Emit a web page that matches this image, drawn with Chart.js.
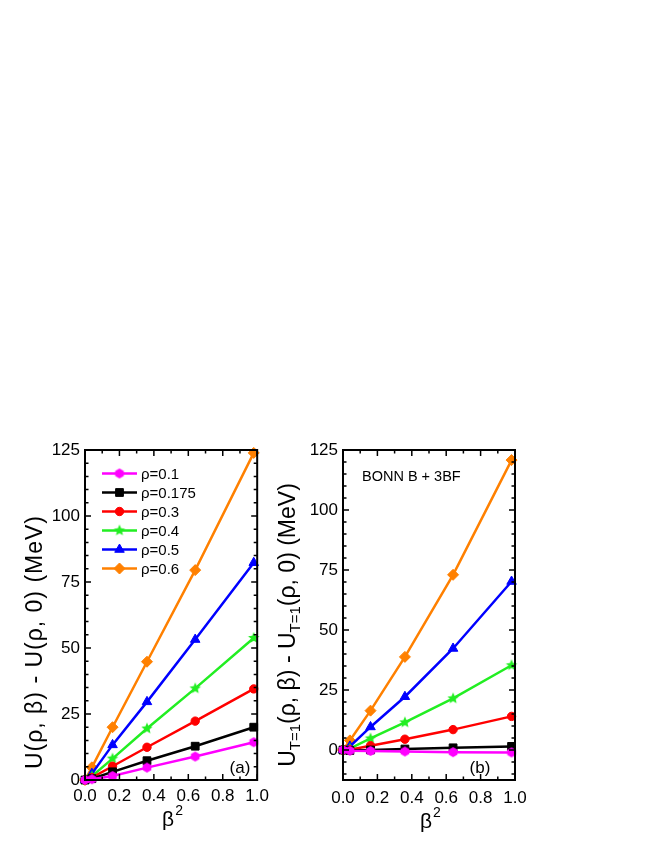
<!DOCTYPE html>
<html>
<head>
<meta charset="utf-8">
<script src="https://cdn.jsdelivr.net/npm/chart.js@4.4.0/dist/chart.umd.min.js"></script>
<style>
  body { margin: 0; background: #fff; width: 654px; height: 846px; position: relative; overflow: hidden; }
  canvas { position: absolute; }
  #chartA { left: 0; top: 430px; }
  #chartB { left: 262px; top: 430px; }
</style>
</head>
<body>
<canvas id="chartA" width="275" height="416" style="width:275px;height:416px"></canvas>
<canvas id="chartB" width="280" height="416" style="width:280px;height:416px"></canvas>
<script>
// beta^2 sample points (same for every curve)
const betaSq = [0, 0.04, 0.16, 0.36, 0.64, 0.98]
const rhoLabels = ['ρ=0.1', 'ρ=0.175', 'ρ=0.3', 'ρ=0.4', 'ρ=0.5', 'ρ=0.6']

// panel (a): U(rho,beta) - U(rho,0)
const rho01A   = [0, 0.3, 1.5, 4.7, 8.9, 14.3]
const rho0175A = [0, 0.5, 3.1, 7.3, 12.8, 20.0]
const rho03A   = [0, 0.9, 5.2, 12.4, 22.3, 34.5]
const rho04A   = [0, 1.4, 8.1, 19.5, 34.7, 53.8]
const rho05A   = [0, 2.4, 13.3, 29.6, 53.2, 82.3]
const rho06A   = [0, 4.8, 20.0, 44.8, 79.5, 123.9]

// panel (b): U_T=1(rho,beta) - U_T=1(rho,0)
const rho01B   = [0, -0.3, -0.4, -0.6, -0.9, -1.0]
const rho0175B = [0, -0.2, 0.0, 0.4, 0.9, 1.5]
const rho03B   = [0, 0.1, 1.8, 4.5, 8.5, 14.0]
const rho04B   = [0, 0.6, 4.8, 11.5, 21.5, 35.3]
const rho05B   = [0, 1.5, 9.6, 22.2, 42.3, 70.2]
const rho06B   = [0, 4.0, 16.4, 38.8, 73.0, 120.8]

const xTicks = [0, 0.2, 0.4, 0.6, 0.8, 1.0]
const yTicks = [0, 25, 50, 75, 100, 125]

const FONT   = "'Liberation Sans', Arial, sans-serif"
const COLORS = ['#FF00FF', '#000000', '#FF0000', '#22EE22', '#0000FF', '#FF8000']

function shape(kind, color, r) {
  const c = document.createElement('canvas')
  const s = Math.ceil(r * 2 + 2)
  c.width = c.height = s
  const g = c.getContext('2d')
  const n = kind === 'star' ? 10 : 6
  g.fillStyle = color
  g.beginPath()
  for (let k = 0; k < n; k++) {
    const a = -Math.PI / 2 + k * Math.PI * 2 / n
    const rr = kind === 'star' ? (k % 2 ? r * 0.45 : r) : r
    g.lineTo(s / 2 + rr * Math.cos(a), s / 2 + rr * Math.sin(a))
  }
  g.closePath()
  g.fill()
  return c
}

const MARKERS = [shape('hex', COLORS[0], 5), 'rect', 'circle', shape('star', COLORS[3], 6), 'triangle', 'rectRot']
const RADII   = [5, 5.5, 4.2, 6, 5.5, 5.5]

// frame, inward ticks, texts, legend
const panelDeco = {
  id: 'panelDeco',
  afterDatasetsDraw(chart, args, o) {
    const { ctx, chartArea: a, scales: { x, y } } = chart
    ctx.save()
    ctx.strokeStyle = '#000'
    ctx.lineWidth = 1.5
    ctx.beginPath()
    const minorX = [], minorY = []
    for (let v = 0.1; v < 1; v += 0.2) minorX.push(v)
    for (let v = o.yMinorFrom; v < 125; v += 5) if (v % 25 !== 0) minorY.push(v)
    const tx = (v, len) => {
      const px = x.getPixelForValue(v)
      ctx.moveTo(px, a.bottom); ctx.lineTo(px, a.bottom - len)
      ctx.moveTo(px, a.top);    ctx.lineTo(px, a.top + len)
    }
    const ty = (v, len) => {
      const py = y.getPixelForValue(v)
      ctx.moveTo(a.left, py);  ctx.lineTo(a.left + len, py)
      ctx.moveTo(a.right, py); ctx.lineTo(a.right - len, py)
    }
    xTicks.forEach(v => tx(v, 6))
    minorX.forEach(v => tx(v, 3.5))
    yTicks.forEach(v => ty(v, 6))
    minorY.forEach(v => ty(v, 3.5))
    ctx.stroke()
    ctx.lineWidth = 2
    ctx.strokeRect(a.left, a.top, a.right - a.left, a.bottom - a.top)
    ctx.restore()
  },
  afterDraw(chart, args, o) {
    const { ctx, chartArea: a } = chart
    ctx.save()
    ctx.fillStyle = '#000'
    ctx.textBaseline = 'middle'

    // y title with optional subscripts
    ctx.translate(o.titleX, o.titleY)
    ctx.rotate(-Math.PI / 2)
    const big = `23px ${FONT}`, small = `15px ${FONT}`
    ctx.letterSpacing = o.spacing
    let total = 0
    o.titleParts.forEach(p => { ctx.font = p.sub ? small : big; total += ctx.measureText(p.t).width })
    let cx = -total / 2
    ctx.textAlign = 'left'
    o.titleParts.forEach(p => {
      ctx.font = p.sub ? small : big
      ctx.fillText(p.t, cx, p.sub ? 7 : 0)
      cx += ctx.measureText(p.t).width
    })
    ctx.setTransform(1, 0, 0, 1, 0, 0)
    ctx.letterSpacing = '0px'

    // x title beta^2
    const xc = (a.left + a.right) / 2
    ctx.font = `21px ${FONT}`
    const bw = ctx.measureText('β').width
    ctx.textAlign = 'left'
    ctx.fillText('β', xc - bw / 2 - 3, o.xTitleY)
    ctx.font = `14px ${FONT}`
    ctx.fillText('2', xc + bw / 2 - 2, o.xTitleY - 9)

    // panel tag
    ctx.font = `17px ${FONT}`
    ctx.textAlign = 'center'
    ctx.fillText(o.tag, o.tagX, o.tagY)

    if (o.note) {
      ctx.font = `14.5px ${FONT}`
      ctx.textAlign = 'left'
      ctx.fillText(o.note, o.noteX, o.noteY)
    }

    if (o.legend) {
      chart.data.datasets.forEach((ds, i) => {
        const ly = o.legendY + i * 19
        ctx.strokeStyle = ds.borderColor
        ctx.lineWidth = 2.5
        ctx.beginPath()
        ctx.moveTo(o.legendX, ly); ctx.lineTo(o.legendX + 35, ly)
        ctx.stroke()
        ctx.fillStyle = ds.backgroundColor
        ctx.lineWidth = 1
        Chart.helpers.drawPoint(ctx, { pointStyle: ds.pointStyle, radius: ds.pointRadius, borderWidth: 1, rotation: 0 }, o.legendX + 17.5, ly)
        ctx.fillStyle = '#000'
        ctx.font = `15px ${FONT}`
        ctx.textAlign = 'left'
        ctx.fillText(ds.label, o.legendX + 39, ly + 1)
      })
    }
    ctx.restore()
  }
}

function makeChart(id, series, yMin, axisW, padRight, deco) {
  return new Chart(document.getElementById(id), {
    type: 'line',
    data: {
      datasets: series.map((vals, i) => ({
        label: rhoLabels[i],
        data: betaSq.map((b, j) => ({ x: b, y: vals[j] })),
        borderColor: COLORS[i],
        backgroundColor: COLORS[i],
        pointStyle: MARKERS[i],
        pointRadius: RADII[i],
        pointBorderWidth: 1,
        borderWidth: 2.5,
        clip: 6
      }))
    },
    options: {
      responsive: false,
      animation: false,
      layout: { padding: { top: 20, right: padRight, left: 0, bottom: 0 } },
      plugins: { legend: { display: false }, tooltip: { enabled: false }, panelDeco: deco },
      scales: {
        x: {
          type: 'linear', min: 0, max: 1,
          afterBuildTicks: s => { s.ticks = xTicks.map(v => ({ value: v })) },
          afterFit: s => { s.height = 66 },
          grid: { display: false, drawTicks: false },
          border: { display: false },
          ticks: { color: '#000', font: { family: FONT, size: 17 }, padding: deco.xPad, maxRotation: 0, autoSkip: false, callback: v => v.toFixed(1) }
        },
        y: {
          type: 'linear', min: yMin, max: 125,
          afterBuildTicks: s => { s.ticks = yTicks.map(v => ({ value: v })) },
          afterFit: s => { s.width = axisW },
          grid: { display: false, drawTicks: false },
          border: { display: false },
          ticks: { color: '#000', font: { family: FONT, size: 17 }, padding: 5, autoSkip: false }
        }
      }
    },
    plugins: [panelDeco]
  })
}

makeChart('chartA', [rho01A, rho0175A, rho03A, rho04A, rho05A, rho06A], 0, 85, 17, {
  yMinorFrom: 5, xPad: 6, spacing: '1px',
  titleX: 36, titleY: 212,
  titleParts: [{ t: 'U(ρ, β) - U(ρ, 0) (MeV)' }],
  xTitleY: 390,
  tag: '(a)', tagX: 240, tagY: 338,
  legend: true, legendX: 102, legendY: 43.5
})

makeChart('chartB', [rho01B, rho0175B, rho03B, rho04B, rho05B, rho06B], -12.5, 81, 27, {
  yMinorFrom: -10, xPad: 8, spacing: '0px',
  titleX: 27, titleY: 195,
  titleParts: [{ t: 'U' }, { t: 'T=1', sub: true }, { t: '(ρ, β) - U' }, { t: 'T=1', sub: true }, { t: '(ρ, 0) (MeV)' }],
  xTitleY: 392,
  tag: '(b)', tagX: 218, tagY: 338,
  note: 'BONN B + 3BF', noteX: 100, noteY: 47
})
</script>
</body>
</html>
